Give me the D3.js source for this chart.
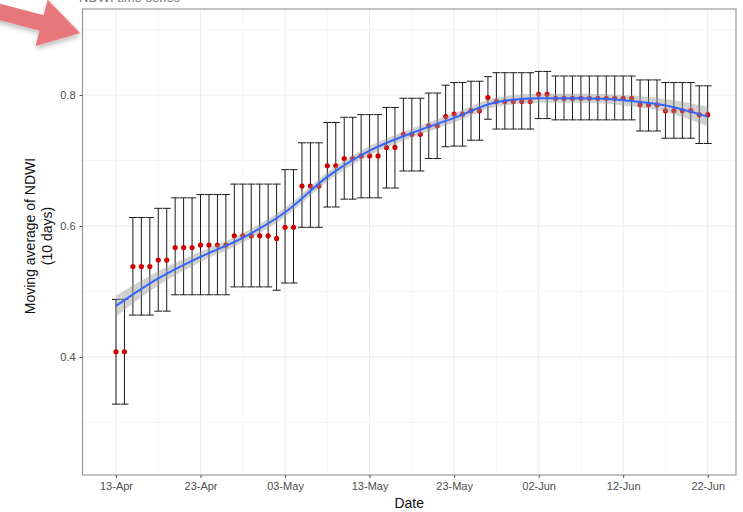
<!DOCTYPE html>
<html>
<head>
<meta charset="utf-8">
<script src="https://cdn.jsdelivr.net/npm/d3@7"></script>
<style>
    body { margin: 0; background: #fff; }
    text { font-family: "Liberation Sans", Arial, sans-serif; }
</style>
</head>
<body>
<div id="chartArea"></div>
<script>
// Daily moving average of NDWI (10 days) with error bars
let dates = [
    "2020-04-13", "2020-04-14", "2020-04-15", "2020-04-16", "2020-04-17", "2020-04-18", "2020-04-19",
    "2020-04-20", "2020-04-21", "2020-04-22", "2020-04-23", "2020-04-24", "2020-04-25", "2020-04-26",
    "2020-04-27", "2020-04-28", "2020-04-29", "2020-04-30", "2020-05-01", "2020-05-02", "2020-05-03",
    "2020-05-04", "2020-05-05", "2020-05-06", "2020-05-07", "2020-05-08", "2020-05-09", "2020-05-10",
    "2020-05-11", "2020-05-12", "2020-05-13", "2020-05-14", "2020-05-15", "2020-05-16", "2020-05-17",
    "2020-05-18", "2020-05-19", "2020-05-20", "2020-05-21", "2020-05-22", "2020-05-23", "2020-05-24",
    "2020-05-25", "2020-05-26", "2020-05-27", "2020-05-28", "2020-05-29", "2020-05-30", "2020-05-31",
    "2020-06-01", "2020-06-02", "2020-06-03", "2020-06-04", "2020-06-05", "2020-06-06", "2020-06-07",
    "2020-06-08", "2020-06-09", "2020-06-10", "2020-06-11", "2020-06-12", "2020-06-13", "2020-06-14",
    "2020-06-15", "2020-06-16", "2020-06-17", "2020-06-18", "2020-06-19", "2020-06-20", "2020-06-21",
    "2020-06-22"
];

let ndwi = [
    0.408, 0.408, 0.538, 0.538, 0.538, 0.548, 0.548,
    0.567, 0.567, 0.567, 0.571, 0.571, 0.571, 0.571,
    0.585, 0.585, 0.585, 0.585, 0.585, 0.581, 0.598,
    0.598, 0.661, 0.661, 0.661, 0.692, 0.692, 0.703,
    0.703, 0.707, 0.707, 0.707, 0.720, 0.720, 0.740,
    0.740, 0.740, 0.753, 0.753, 0.767, 0.771, 0.771,
    0.776, 0.776, 0.796, 0.790, 0.790, 0.790, 0.790,
    0.790, 0.801, 0.801, 0.795, 0.795, 0.795, 0.795,
    0.795, 0.795, 0.795, 0.795, 0.795, 0.795, 0.785,
    0.785, 0.785, 0.776, 0.776, 0.776, 0.776, 0.770,
    0.770
];

let lower = [
    0.328, 0.328, 0.464, 0.464, 0.464, 0.470, 0.470,
    0.495, 0.495, 0.495, 0.495, 0.495, 0.495, 0.495,
    0.507, 0.507, 0.507, 0.507, 0.507, 0.502, 0.513,
    0.513, 0.598, 0.598, 0.598, 0.629, 0.629, 0.641,
    0.641, 0.643, 0.643, 0.643, 0.658, 0.658, 0.684,
    0.684, 0.684, 0.703, 0.703, 0.721, 0.722, 0.722,
    0.731, 0.731, 0.763, 0.748, 0.748, 0.748, 0.748,
    0.748, 0.764, 0.764, 0.762, 0.762, 0.762, 0.762,
    0.762, 0.762, 0.762, 0.762, 0.762, 0.762, 0.745,
    0.745, 0.745, 0.734, 0.734, 0.734, 0.734, 0.726,
    0.726
];

let upper = [
    0.488, 0.488, 0.613, 0.613, 0.613, 0.627, 0.627,
    0.643, 0.643, 0.643, 0.648, 0.648, 0.648, 0.648,
    0.664, 0.664, 0.664, 0.664, 0.664, 0.664, 0.686,
    0.686, 0.727, 0.727, 0.727, 0.758, 0.758, 0.766,
    0.766, 0.770, 0.770, 0.770, 0.781, 0.781, 0.795,
    0.795, 0.795, 0.803, 0.803, 0.815, 0.819, 0.819,
    0.821, 0.821, 0.828, 0.834, 0.834, 0.834, 0.834,
    0.834, 0.836, 0.836, 0.829, 0.829, 0.829, 0.829,
    0.829, 0.829, 0.829, 0.829, 0.829, 0.829, 0.823,
    0.823, 0.823, 0.819, 0.819, 0.819, 0.819, 0.814,
    0.814
];

// loess fit, with its band half-width
let smoothDates = [
    "2020-04-13", "2020-04-18", "2020-04-23", "2020-04-28", "2020-05-03",
    "2020-05-08", "2020-05-13", "2020-05-18", "2020-05-23", "2020-05-28",
    "2020-06-02", "2020-06-07", "2020-06-12", "2020-06-17", "2020-06-22"
];
let smoothFit = [0.478, 0.520, 0.553, 0.582, 0.621, 0.675, 0.715, 0.742, 0.765, 0.789, 0.795, 0.795, 0.792, 0.784, 0.767];
let smoothSe = [0.016, 0.011, 0.008, 0.007, 0.007, 0.007, 0.007, 0.007, 0.007, 0.007, 0.007, 0.007, 0.008, 0.010, 0.015];

let xTicks = ["2020-04-13", "2020-04-23", "2020-05-03", "2020-05-13", "2020-05-23", "2020-06-02", "2020-06-12", "2020-06-22"];
let xMinor = ["2020-04-18", "2020-04-28", "2020-05-08", "2020-05-18", "2020-05-28", "2020-06-07", "2020-06-17"];
let yTicks = [0.4, 0.6, 0.8];
let yMinor = [0.3, 0.5, 0.7, 0.9];

let parse = d3.timeParse("%Y-%m-%d");

let data = dates.map((d, i) => ({
    DATE: parse(d),
    NDWI: ndwi[i],
    LOW: lower[i],
    HIGH: upper[i]
}));

let smooth = smoothDates.map((d, i) => ({
    DATE: parse(d),
    FIT: smoothFit[i],
    SE: smoothSe[i]
}));

let panel = { left: 82.5, right: 736, top: 9, bottom: 475 };

let svg = d3.select("#chartArea")
    .append('svg')
        .attr('width', 743)
        .attr('height', 512);

let xScale = d3.scaleTime()
    .domain([parse(xTicks[0]), parse(xTicks[xTicks.length - 1])])
    .range([116, 707.7]);

let yScale = d3.scaleLinear()
    .domain([0.4, 0.8])
    .range([357, 95]);

// panel background and grid
svg.append('rect')
    .attr('x', panel.left).attr('y', panel.top)
    .attr('width', panel.right - panel.left)
    .attr('height', panel.bottom - panel.top)
    .attr('fill', '#fff');

let grid = svg.append('g');

grid.selectAll('.ymin').data(yMinor).enter().append('line')
    .attr('x1', panel.left).attr('x2', panel.right)
    .attr('y1', d => yScale(d)).attr('y2', d => yScale(d))
    .attr('stroke', '#f4f4f4').attr('stroke-width', 0.8);

grid.selectAll('.xmin').data(xMinor).enter().append('line')
    .attr('x1', d => xScale(parse(d))).attr('x2', d => xScale(parse(d)))
    .attr('y1', panel.top).attr('y2', panel.bottom)
    .attr('stroke', '#f4f4f4').attr('stroke-width', 0.8);

grid.selectAll('.ymaj').data(yTicks).enter().append('line')
    .attr('x1', panel.left).attr('x2', panel.right)
    .attr('y1', d => yScale(d)).attr('y2', d => yScale(d))
    .attr('stroke', '#ebebeb').attr('stroke-width', 1);

grid.selectAll('.xmaj').data(xTicks).enter().append('line')
    .attr('x1', d => xScale(parse(d))).attr('x2', d => xScale(parse(d)))
    .attr('y1', panel.top).attr('y2', panel.bottom)
    .attr('stroke', '#ebebeb').attr('stroke-width', 1);

// error bars
let bars = svg.append('g')
    .attr('stroke', '#1a1a1a')
    .attr('stroke-width', 1);

bars.selectAll('.stem').data(data).enter().append('line')
    .attr('x1', d => xScale(d.DATE)).attr('x2', d => xScale(d.DATE))
    .attr('y1', d => yScale(d.LOW)).attr('y2', d => yScale(d.HIGH));

bars.selectAll('.capLow').data(data).enter().append('line')
    .attr('x1', d => xScale(d.DATE) - 4).attr('x2', d => xScale(d.DATE) + 4)
    .attr('y1', d => yScale(d.LOW)).attr('y2', d => yScale(d.LOW));

bars.selectAll('.capHigh').data(data).enter().append('line')
    .attr('x1', d => xScale(d.DATE) - 4).attr('x2', d => xScale(d.DATE) + 4)
    .attr('y1', d => yScale(d.HIGH)).attr('y2', d => yScale(d.HIGH));

// points
svg.append('g').selectAll('circle').data(data).enter().append('circle')
    .attr('cx', d => xScale(d.DATE))
    .attr('cy', d => yScale(d.NDWI))
    .attr('r', 2.6)
    .attr('fill', '#d00000');

// smooth band and line
let band = d3.area()
    .x(d => xScale(d.DATE))
    .y0(d => yScale(d.FIT - d.SE))
    .y1(d => yScale(d.FIT + d.SE))
    .curve(d3.curveMonotoneX);

svg.append('path')
    .attr('d', band(smooth))
    .attr('fill', '#999999')
    .attr('fill-opacity', 0.45);

let line = d3.line()
    .x(d => xScale(d.DATE))
    .y(d => yScale(d.FIT))
    .curve(d3.curveMonotoneX);

svg.append('path')
    .attr('d', line(smooth))
    .attr('fill', 'none')
    .attr('stroke', '#3366ff')
    .attr('stroke-width', 2);

// panel border
svg.append('rect')
    .attr('x', panel.left).attr('y', panel.top)
    .attr('width', panel.right - panel.left)
    .attr('height', panel.bottom - panel.top)
    .attr('fill', 'none')
    .attr('stroke', '#9a9a9a')
    .attr('stroke-width', 1.2);

// axes
let xAxis = svg.append('g')
    .attr('transform', 'translate(0, ' + panel.bottom + ')')
    .call(
        d3.axisBottom(xScale)
            .tickValues(xTicks.map(parse))
            .tickFormat(d3.timeFormat('%d-%b'))
            .tickSize(3)
            .tickPadding(4)
    );

let yAxis = svg.append('g')
    .attr('transform', 'translate(' + panel.left + ', 0)')
    .call(
        d3.axisLeft(yScale)
            .tickValues(yTicks)
            .tickFormat(d3.format('.1f'))
            .tickSize(3)
            .tickPadding(4)
    );

[xAxis, yAxis].forEach(a => {
    a.select('.domain').remove();
    a.selectAll('.tick line').attr('stroke', '#555');
    a.selectAll('.tick text')
        .attr('fill', '#4d4d4d')
        .style('font-size', '11px');
});

// axis titles
svg.append('text')
    .attr('x', (panel.left + panel.right) / 2)
    .attr('y', 508)
    .attr('text-anchor', 'middle')
    .style('font-size', '14px')
    .attr('fill', '#111')
    .text('Date');

let yTitle = svg.append('text')
    .attr('transform', 'translate(35, 236) rotate(-90)')
    .attr('text-anchor', 'middle')
    .style('font-size', '14px')
    .attr('fill', '#111');

yTitle.append('tspan').attr('x', 0).attr('dy', 0).text('Moving average of NDWI');
yTitle.append('tspan').attr('x', 0).attr('dy', 17).text('(10 days)');

// title, cut off at the top edge
svg.append('text')
    .attr('x', 79)
    .attr('y', 2)
    .style('font-size', '13px')
    .attr('fill', '#777')
    .text('NDWI time series');

// pointer arrow
let defs = svg.append('defs');
let shadow = defs.append('filter').attr('id', 'shadow')
    .attr('x', '-20%').attr('y', '-20%').attr('width', '150%').attr('height', '160%');
shadow.append('feDropShadow')
    .attr('dx', 1).attr('dy', 3).attr('stdDeviation', 2.5)
    .attr('flood-color', '#000').attr('flood-opacity', 0.25);

svg.append('polygon')
    .attr('points', '-10,-8 43,-8 43,-24 83,0 43,24 43,8 -10,8')
    .attr('transform', 'translate(0, 12) rotate(14.7)')
    .attr('fill', '#e8777b')
    .attr('filter', 'url(#shadow)');
</script>
</body>
</html>
